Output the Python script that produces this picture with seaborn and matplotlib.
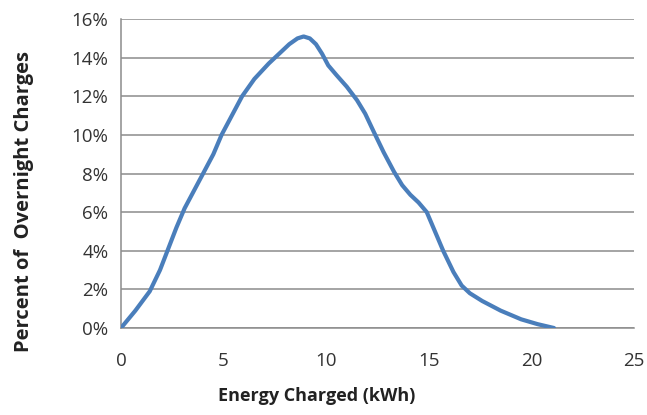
import matplotlib
matplotlib.use("Agg")
import pandas as pd
import matplotlib.pyplot as plt
import seaborn as sns
from matplotlib.ticker import PercentFormatter

# values
energy_kwh = [0.0, 0.7, 1.4, 1.9, 2.3, 2.7, 3.1, 3.6, 4.0, 4.5, 4.9, 5.4, 5.9,
              6.5, 7.2, 7.8, 8.2, 8.6, 8.9, 9.2, 9.5, 9.8, 10.1, 10.5, 11.0, 11.5,
              11.9, 12.3, 12.8, 13.3, 13.7, 14.1, 14.5, 14.9, 15.3, 15.7, 16.2,
              16.6, 17.0, 17.6, 18.5, 19.5, 20.3, 21.1]
pct_charges = [0.0, 0.9, 1.9, 3.0, 4.1, 5.2, 6.2, 7.2, 8.0, 9.0, 10.0, 11.0, 12.0,
               12.9, 13.7, 14.3, 14.7, 15.0, 15.1, 15.0, 14.7, 14.2, 13.6, 13.1, 12.5, 11.8,
               11.1, 10.2, 9.1, 8.1, 7.4, 6.9, 6.5, 6.0, 5.0, 4.0, 2.9,
               2.2, 1.8, 1.4, 0.9, 0.45, 0.2, 0.0]
x_ticks = [0, 5, 10, 15, 20, 25]
y_ticks = [0, 2, 4, 6, 8, 10, 12, 14, 16]

df = pd.DataFrame({"energy": energy_kwh, "pct": pct_charges})

sns.set_style("white")
plt.rcParams["font.family"] = ["Open Sans", "DejaVu Sans"]

fig = plt.figure(figsize=(6.47, 4.15), dpi=100)
ax = fig.add_axes([0.187, 0.2096, 0.793, 0.7444])

sns.lineplot(data=df, x="energy", y="pct", sort=False, estimator=None,
             color="#4a7ebb", linewidth=3.0, ax=ax, zorder=3)
ax.lines[0].set_solid_joinstyle("round")
ax.lines[0].set_solid_capstyle("round")

ax.set_xlim(0, 25)
ax.set_ylim(0, 16)
ax.set_xticks(x_ticks)
ax.set_yticks(y_ticks)
ax.yaxis.set_major_formatter(PercentFormatter(decimals=0))
ax.grid(axis="y", color="#8c8c8c", linewidth=1.1)
ax.grid(axis="x", visible=False)

for side in ["top", "right"]:
    ax.spines[side].set_visible(False)
for side in ["left", "bottom"]:
    ax.spines[side].set_color("#8c8c8c")
    ax.spines[side].set_linewidth(1.1)

ax.tick_params(axis="both", which="major", direction="out", length=5,
               width=1.1, color="#8c8c8c", labelsize=13.5, labelcolor="#333333")
ax.tick_params(axis="x", pad=12)
ax.tick_params(axis="y", pad=4)

ax.set_xlabel("Energy Charged (kWh)", fontsize=13, fontweight="bold",
              color="#222222")
ax.set_ylabel("Percent of  Overnight Charges", fontsize=14.5, fontweight="bold",
              color="#222222")
ax.xaxis.set_label_coords(0.382, -0.19)
ax.yaxis.set_label_coords(-0.17, 0.41)

fig.savefig("out.png", dpi=100, facecolor="white")
